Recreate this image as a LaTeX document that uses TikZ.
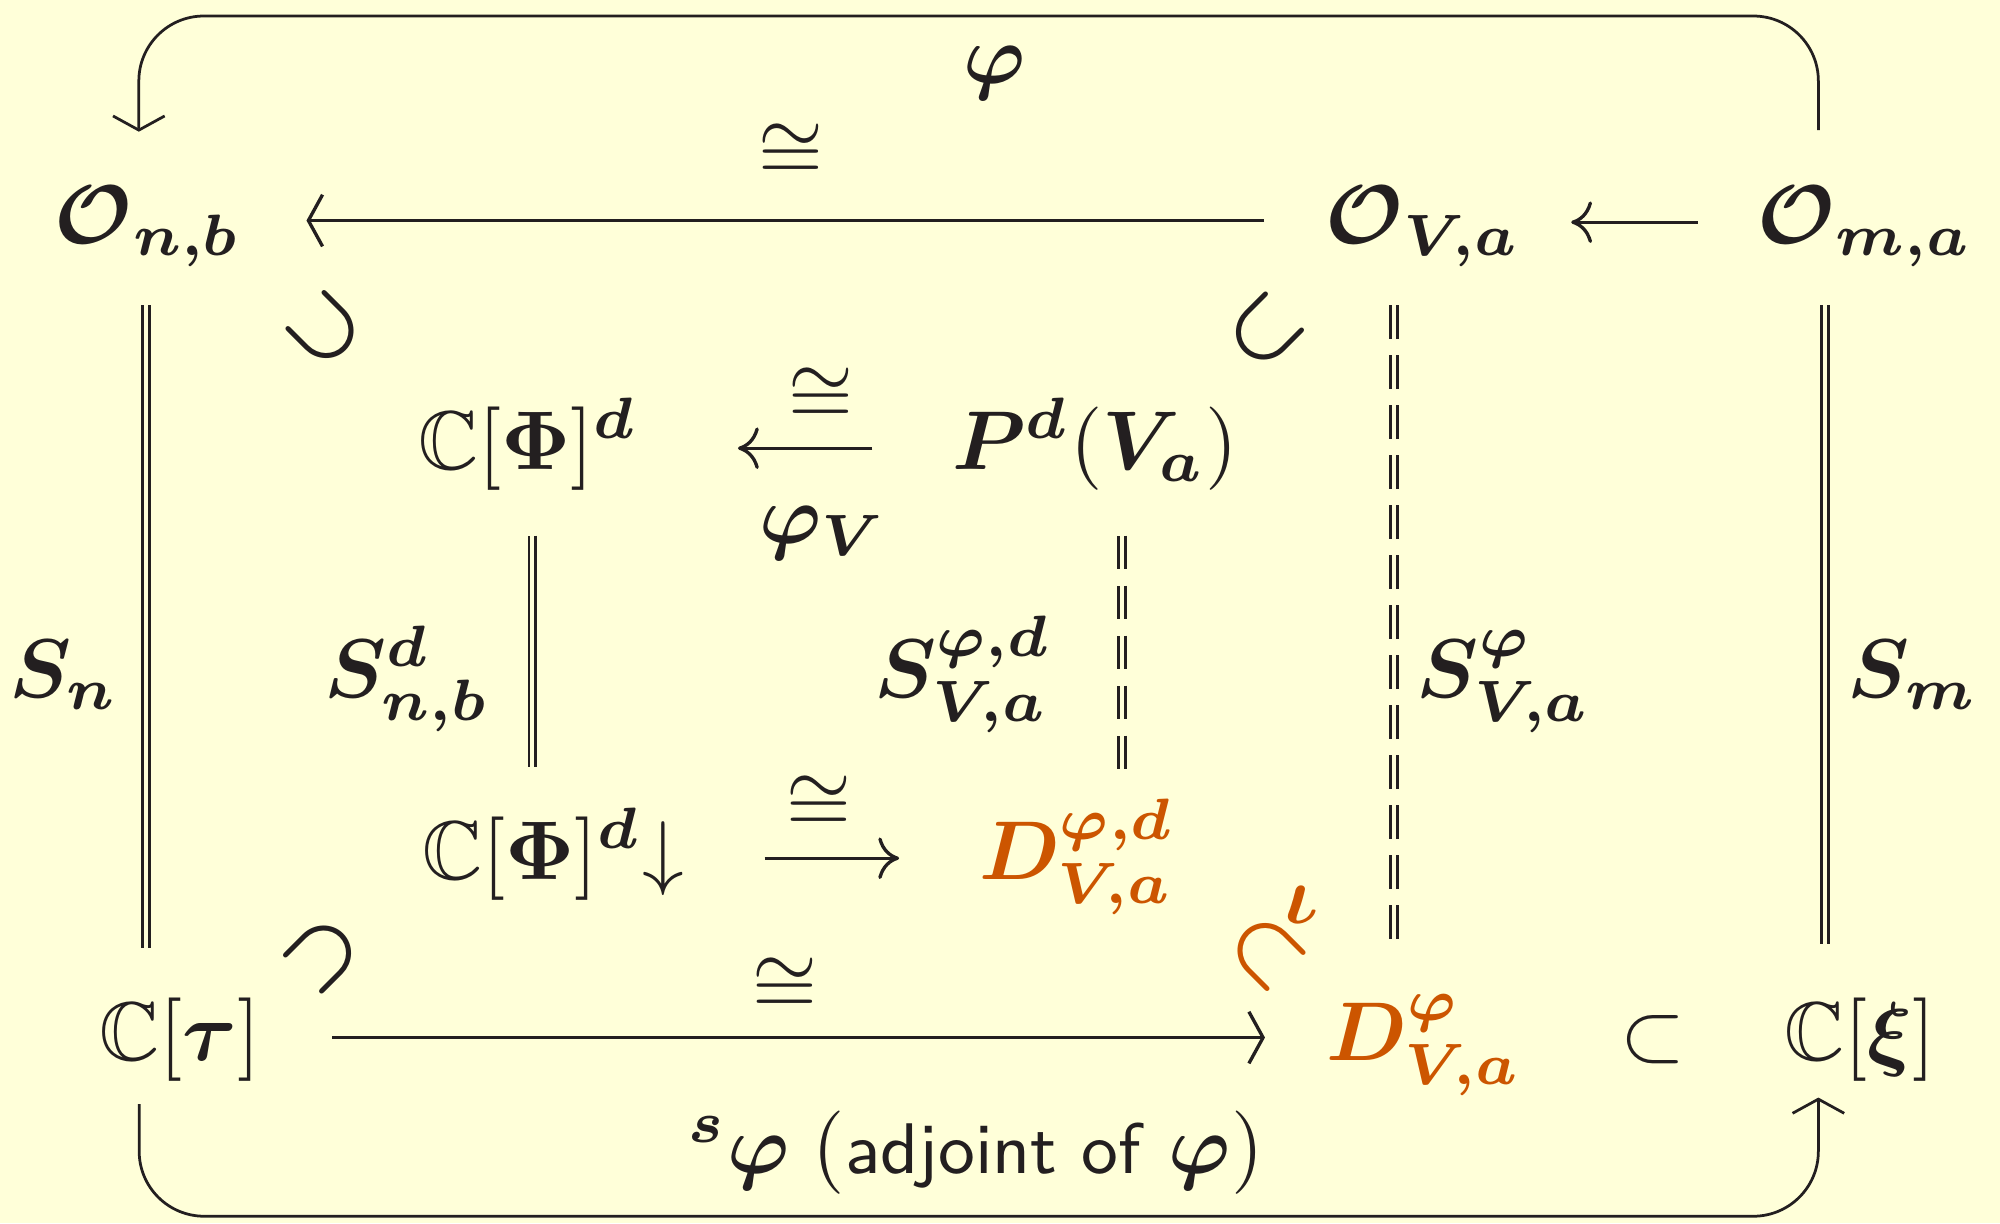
\documentclass[tikz,border=0pt]{standalone}
\usepackage{amsmath,amssymb,bm}
\usetikzlibrary{arrows.meta,calc}
\definecolor{bgcol}{RGB}{255,255,217}
\definecolor{inkc}{RGB}{35,31,32}
\definecolor{orng}{RGB}{204,85,0}
\tikzset{
  mth/.style={anchor=base,inner sep=0pt,outer sep=0pt,text=inkc},
  lbl/.style={inner sep=0pt,outer sep=0pt,text=inkc},
  isoarrow/.style={draw=inkc,line width=0.4pt,-{Straight Barb[length=1.7pt,width=6.2pt]}},
  cmarrow/.style={draw=inkc,line width=0.4pt,-{Computer Modern Rightarrow[length=2.5pt,width=5pt]}},
  eqline/.style={draw=inkc,double=bgcol,double distance=0.42pt,line width=0.35pt},
  dasheq/.style={eqline,dash pattern=on 4pt off 2pt},
  loopline/.style={draw=inkc,line width=0.33pt,rounded corners=7.8pt,-{Straight Barb[length=1.7pt,width=6.2pt]}}
}
\begin{document}
\begin{tikzpicture}[x=0.12pt,y=-0.12pt]
\fill[bgcol] (0,0) rectangle (2000,1223);
\useasboundingbox (0,0) rectangle (2000,1223);
\node[mth] (On) at (148,243) {$\bm{\mathcal{O}}_{\bm{n,b}}$};
\node[mth] (OVa) at (1423,243) {$\bm{\mathcal{O}}_{\bm{V,a}}$};
\node[mth] (Oma) at (1865,243) {$\bm{\mathcal{O}}_{\bm{m,a}}$};
\node[mth] (CPhid) at (528,469) {$\mathbb{C}[\bm{\Phi}]^{\bm{d}}$};
\node[mth] (Pd) at (1095,469) {$\bm{P}^{\bm{d}}(\bm{V}_{\bm{a}})$};
\node[mth] (CPhidd) at (553,879) {$\mathbb{C}[\bm{\Phi}]^{\bm{d}}{\downarrow}$};
\node[mth,text=orng] (Dphid) at (1077,879) {$\bm{D}^{\bm{\varphi,d}}_{\bm{V,a}}$};
\node[mth] (Ctau) at (180,1060) {$\mathbb{C}[\bm{\tau}]$};
\node[mth,text=orng] (DVa) at (1424,1060) {$\bm{D}^{\bm{\varphi}}_{\bm{V,a}}$};
\node[mth] (sub) at (1653,1060) {$\subset$};
\node[mth] (Cxi) at (1860,1060) {$\mathbb{C}[\bm{\xi}]$};
\node[mth] (phiV) at (823,543) {$\bm{\varphi}_{\bm{V}}$};
\node[mth] (Sn) at (64,697) {$\bm{S}_{\bm{n}}$};
\node[mth] (Snb) at (407,697) {$\bm{S}^{\bm{d}}_{\bm{n,b}}$};
\node[mth] (Svad) at (963,697) {$\bm{S}^{\bm{\varphi,d}}_{\bm{V,a}}$};
\node[mth] (Sva) at (1504,697) {$\bm{S}^{\bm{\varphi}}_{\bm{V,a}}$};
\node[mth] (Sm) at (1913,697) {$\bm{S}_{\bm{m}}$};
\node[lbl] (c1) at (791,152) {$\cong$};
\node[lbl] (c2) at (821,396) {$\cong$};
\node[lbl] (c3) at (819,804) {$\cong$};
\node[lbl] (c4) at (785,986) {$\cong$};
\node[mth] (phitop) at (995,83) {$\bm{\varphi}$};
\node[mth] (adj) at (976,1173) {$^{\bm{s}}\bm{\varphi}\;(\text{\fontsize{8.6}{10}\selectfont\sffamily adjoint of}\ \bm{\varphi})$};
\node[lbl,rotate=135] (h1) at (325,330) {$\bm{\subset}$};
\node[lbl,rotate=45] (h2) at (1265,331) {$\bm{\subset}$};
\node[lbl,rotate=225] (h3) at (323,955) {$\bm{\subset}$};
\node[lbl,rotate=-45,text=orng] (h4) at (1267,952) {$\bm{\subset}$};
\node[lbl,text=orng] (iota) at (1302,905) {$\bm{\iota}$};
\draw[isoarrow,shorten <=7.4pt,shorten >=7.85pt] ([yshift=2.7pt]OVa.base west) -- ([yshift=2.7pt]On.base east);
\draw[cmarrow,shorten <=7.2pt,shorten >=6.1pt] ([yshift=2.5pt]Oma.base west) -- ([yshift=2.5pt]OVa.base east);
\draw[cmarrow,shorten <=9.6pt,shorten >=12pt] ([yshift=2.5pt]Pd.base west) -- ([yshift=2.5pt]CPhid.base east);
\draw[cmarrow,shorten <=9.7pt,shorten >=9.6pt] ([yshift=2.5pt]CPhidd.base east) -- ([yshift=2.5pt]Dphid.base west);
\draw[isoarrow,shorten <=8.6pt,shorten >=7.4pt] ([yshift=2.7pt]Ctau.base east) -- ([yshift=2.7pt]DVa.base west);
\draw[eqline,shorten <=4.6pt,shorten >=6pt] ([xshift=-0.24pt]On.south) -- ([xshift=-0.24pt]On.south |- Ctau.north);
\draw[eqline,shorten <=5.5pt,shorten >=4.9pt] ([xshift=0.5pt]CPhid.south) -- ([xshift=0.5pt]CPhid.south |- CPhidd.north);
\draw[dasheq,shorten <=5.5pt,shorten >=2.8pt] ([xshift=3.24pt]Pd.south) -- ([xshift=3.24pt]Pd.south |- Dphid.north);
\draw[dasheq,shorten <=4.6pt,shorten >=4.8pt] ([xshift=-3.5pt]OVa.south) -- ([xshift=-3.5pt]OVa.south |- DVa.north);
\draw[eqline,shorten <=4.6pt,shorten >=6.4pt] ([xshift=-4.8pt]Oma.south) -- ([xshift=-4.8pt]Oma.south |- Cxi.north);
\draw[loopline] ([xshift=-5.6pt,yshift=6.7pt]Oma.north) -- ++(0,-114) -| ([xshift=-1.1pt,yshift=6.5pt]On.north);
\draw[loopline] ([xshift=-4.9pt,yshift=-2.8pt]Ctau.south) -- ++(0,112) -| ([xshift=-5pt,yshift=-2pt]Cxi.south);
\end{tikzpicture}
\end{document}
